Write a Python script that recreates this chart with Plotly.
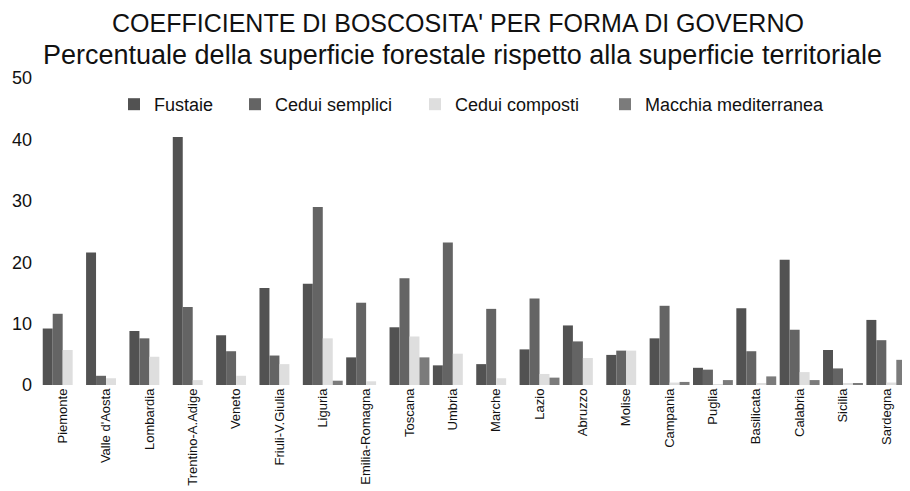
import plotly.graph_objects as go

regions = ["Piemonte", "Valle d'Aosta", "Lombardia", "Trentino-A.Adige", "Veneto",
           "Friuli-V.Giulia", "Liguria", "Emilia-Romagna", "Toscana", "Umbria",
           "Marche", "Lazio", "Abruzzo", "Molise", "Campania", "Puglia",
           "Basilicata", "Calabria", "Sicilia", "Sardegna"]

fustaie = [9.2, 21.6, 8.8, 40.4, 8.1, 15.8, 16.5, 4.5, 9.4, 3.2,
           3.4, 5.8, 9.7, 4.9, 7.6, 2.8, 12.5, 20.4, 5.7, 10.6]
cedui_semplici = [11.6, 1.5, 7.6, 12.7, 5.5, 4.8, 29.0, 13.4, 17.4, 23.2,
                  12.4, 14.1, 7.1, 5.6, 12.9, 2.5, 5.5, 9.0, 2.7, 7.3]
cedui_composti = [5.7, 1.1, 4.6, 0.8, 1.5, 3.4, 7.6, 0.6, 7.9, 5.1,
                  1.1, 1.8, 4.4, 5.6, 0.4, 0.1, 0.2, 2.1, 0.2, 0.4]
macchia = [0, 0, 0, 0, 0, 0, 0.7, 0, 4.5, 0,
           0, 1.2, 0, 0, 0.5, 0.8, 1.4, 0.8, 0.3, 4.1]

series_names = ["Fustaie", "Cedui semplici", "Cedui composti", "Macchia mediterranea"]
series_values = [fustaie, cedui_semplici, cedui_composti, macchia]
series_colors = ["#525252", "#646464", "#dedede", "#7b7b7b"]
legend_ids = ["legend", "legend2", "legend3", "legend4"]
legend_text_x = [152, 273, 453, 643]

title_line1 = "COEFFICIENTE DI BOSCOSITA' PER FORMA DI GOVERNO"
title_line2 = "Percentuale della superficie forestale rispetto alla superficie territoriale"

y_ticks = [0, 10, 20, 30, 40, 50]

# page shows the figure with an 8px offset; work in window pixels
OFF = 8
W, H = 902, 483
PL, PR, PT, PB = 41, 908, 78, 385          # plot area in window pixels
ML, MR, MT, MB = PL - OFF, (OFF + W) - PR, PT - OFF, (OFF + H) - PB
PW, PH = PR - PL, PB - PT

def px_x(x):
    return (x - PL) / PW

def px_y(y):
    return (PB - y) / PH

fig = go.Figure()
for name, vals, col, lg in zip(series_names, series_values, series_colors, legend_ids):
    fig.add_trace(go.Bar(x=regions, y=vals, name=name, marker_color=col,
                         marker_line_width=0, legend=lg))

font_main = "Liberation Sans, Arial, sans-serif"
layout_legends = {}
for lg, tx in zip(legend_ids, legend_text_x):
    layout_legends[lg] = dict(
        orientation="h", xref="paper", yref="paper",
        x=px_x(tx - 38), y=px_y(86), xanchor="left", yanchor="top",
        font=dict(family=font_main, size=18, color="#111"),
        bgcolor="rgba(0,0,0,0)", borderwidth=0, itemwidth=30,
    )

fig.update_layout(
    width=W, height=H,
    margin=dict(l=ML, r=MR, t=MT, b=MB, autoexpand=False),
    paper_bgcolor="white", plot_bgcolor="white",
    barmode="group", bargap=0.08, bargroupgap=0,
    showlegend=True,
    annotations=[
        dict(text=title_line1, xref="paper", yref="paper", x=px_x(458), y=px_y(23),
             xanchor="center", yanchor="middle", showarrow=False,
             font=dict(family=font_main, size=25, color="#111")),
        dict(text=title_line2, xref="paper", yref="paper", x=px_x(462), y=px_y(55),
             xanchor="center", yanchor="middle", showarrow=False,
             font=dict(family=font_main, size=27, color="#111")),
    ],
    xaxis=dict(
        tickangle=-90, tickfont=dict(family=font_main, size=13, color="#111"),
        showgrid=False, showline=False, ticks="", zeroline=False, automargin=False,
    ),
    yaxis=dict(
        range=[0, 50], tickvals=y_ticks, ticktext=[str(v) for v in y_ticks],
        tickfont=dict(family=font_main, size=18, color="#111"),
        showgrid=False, zeroline=False, showline=False, ticks="", automargin=False,
        ticklabelstandoff=8,
    ),
    **layout_legends,
)

fig.write_html("out.html")
